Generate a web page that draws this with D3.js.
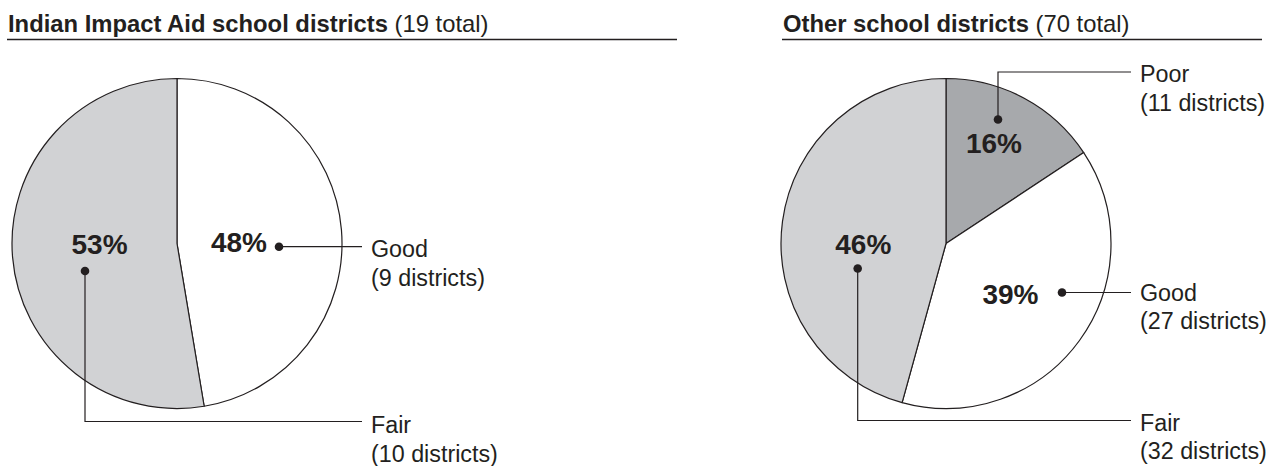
<!DOCTYPE html>
<html><head><meta charset="utf-8">
<script src="https://cdn.jsdelivr.net/npm/d3@7/dist/d3.min.js"></script>
<style>
html,body{margin:0;padding:0;background:#fff;}
svg{display:block;font-family:"Liberation Sans",Arial,Helvetica,sans-serif;}
</style></head><body>
<svg id="chart" width="1270" height="466"></svg>
<script>
// ---- data ----
const panelTitles = ["Indian Impact Aid school districts", "Other school districts"];
const panelTotals = ["(19 total)", "(70 total)"];
const leftCategories = ["Good", "Fair"];
const leftCounts = [9, 10];
const leftPercents = [48, 53];
const rightCategories = ["Poor", "Good", "Fair"];
const rightCounts = [11, 27, 32];
const rightPercents = [16, 39, 46];

// ---- styles / layout ----
const ink = "#231f20";
const colorScale = d3.scaleOrdinal().domain(["Poor", "Good", "Fair"]).range(["#a7a9ac", "#ffffff", "#d1d2d4"]);
const R = 165;
const panels = [
  { cx: 177, cy: 243.5, titleX: 8, ruleX0: 7, ruleX1: 677, lineEnd: 362,
    cats: leftCategories, counts: leftCounts, pcts: leftPercents,
    layout: {
      Good: { px: 90, py: 8.5, anchor: "end", dx: 102, dy: 3.2, bendY: null, ty: 13.5 },
      Fair: { px: -77.5, py: 10.5, anchor: "middle", dx: -92, dy: 27.5, bendY: 178, ty: 189.5 }
    } },
  { cx: 946, cy: 243.5, titleX: 783, ruleX0: 782, ruleX1: 1262, lineEnd: 1131,
    cats: rightCategories, counts: rightCounts, pcts: rightPercents,
    layout: {
      Poor: { px: 48, py: -91, anchor: "middle", dx: 52, dy: -124, bendY: -171.5, ty: -161.5 },
      Good: { px: 64.5, py: 60, anchor: "middle", dx: 116, dy: 49, bendY: null, ty: 57 },
      Fair: { px: -82.7, py: 10.5, anchor: "middle", dx: -88.3, dy: 25, bendY: 177, ty: 187 }
    } }
];

const svg = d3.select("#chart");
const pie = d3.pie().sort(null).value(d => d.count);
const arc = d3.arc().innerRadius(0).outerRadius(R);

panels.forEach((p, i) => {
  // title
  const t = svg.append("text").attr("x", p.titleX).attr("y", 31.5).attr("fill", ink).style("font-size", "23.8px");
  t.append("tspan").attr("font-weight", "bold").text(panelTitles[i]);
  t.append("tspan").text(" " + panelTotals[i]);
  svg.append("line").attr("x1", p.ruleX0).attr("x2", p.ruleX1).attr("y1", 39.5).attr("y2", 39.5)
    .attr("stroke", ink).attr("stroke-width", 1.5);

  const data = p.cats.map((c, k) => ({ cat: c, count: p.counts[k], pct: p.pcts[k] }));
  const g = svg.append("g").attr("transform", `translate(${p.cx},${p.cy})`);
  g.selectAll("path.slice").data(pie(data)).join("path")
    .attr("class", "slice")
    .attr("d", arc)
    .attr("fill", d => colorScale(d.data.cat))
    .attr("stroke", ink).attr("stroke-width", 1.2).attr("stroke-linejoin", "round");

  data.forEach(d => {
    const L = p.layout[d.cat];
    // leader line
    const pts = [[L.dx, L.dy]];
    if (L.bendY !== null) pts.push([L.dx, L.bendY]);
    const endY = L.bendY !== null ? L.bendY : L.dy;
    pts.push([p.lineEnd - p.cx, endY]);
    g.append("path").attr("d", d3.line()(pts)).attr("fill", "none").attr("stroke", ink).attr("stroke-width", 1.2);
    g.append("circle").attr("cx", L.dx).attr("cy", L.dy).attr("r", 4.3).attr("fill", ink);
    // percent label
    g.append("text").attr("x", L.px).attr("y", L.py).attr("text-anchor", L.anchor)
      .attr("font-weight", "bold").style("font-size", "28px").attr("fill", ink).text(d.pct + "%");
    // category label
    const lx = p.lineEnd - p.cx + 9;
    const lt = g.append("text").attr("fill", ink).style("font-size", "23.3px");
    lt.append("tspan").attr("x", lx).attr("y", L.ty).text(d.cat);
    lt.append("tspan").attr("x", lx).attr("y", L.ty + 28.5).text("(" + d.count + " districts)");
  });
});
</script>
</body></html>
